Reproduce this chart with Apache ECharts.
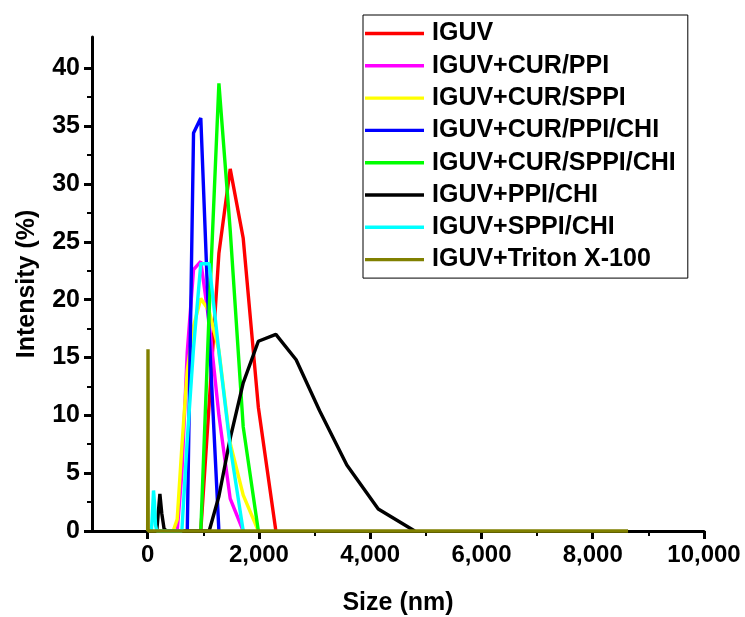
<!DOCTYPE html>
<html><head><meta charset="utf-8">
<script src="https://cdn.jsdelivr.net/npm/echarts@6/dist/echarts.min.js"></script>
<style>html,body{margin:0;padding:0;background:#fff}#c{width:745px;height:617px}</style>
</head><body><div id="c"></div>
<script>
// ---- data (size in nm, intensity in %) ----
const seriesNames = ['IGUV','IGUV+CUR/PPI','IGUV+CUR/SPPI','IGUV+CUR/PPI/CHI','IGUV+CUR/SPPI/CHI','IGUV+PPI/CHI','IGUV+SPPI/CHI','IGUV+Triton X-100'];
const seriesColors = ['#FF0000','#FF00FF','#FFFF00','#0000FF','#00FF00','#000000','#00FFFF','#808000'];

const xIGUV = [955.4, 1106, 1281, 1484, 1718, 1990, 2305];
const yIGUV = [0, 11, 24, 31.3, 25.3, 10.7, 0];

const xCurPPI = [531.2, 615.1, 712.4, 825, 955.4, 1106, 1281, 1484, 1718];
const yCurPPI = [0, 5, 15.5, 22.6, 23.3, 18, 10, 2.8, 0];

const xCurSPPI = [458.7, 531.2, 615.1, 712.4, 825, 955.4, 1106, 1281, 1484, 1718, 1990];
const yCurSPPI = [0, 1, 7.3, 13.9, 17.7, 20.1, 19, 15.6, 7.6, 3.1, 0];

const xCurPPIChi = [712.4, 825, 955.4, 1106, 1281];
const yCurPPIChi = [0, 34.4, 35.7, 17, 0];

const xCurSPPIChi = [955.4, 1106, 1281, 1484, 1718, 1990];
const yCurSPPIChi = [0, 19, 38.7, 26, 9, 0];

const xPPIChi = [164.2, 190.1, 220.2, 255, 295.3, 342, 1106, 1281, 1484, 1718, 1990, 2305, 2669, 3091, 3580, 4145, 4801];
const yPPIChi = [0, 1.5, 3.2, 1.5, 0.2, 0, 0, 3, 8, 12.8, 16.4, 17, 14.8, 10.4, 5.7, 1.9, 0];

const xSPPIChi = [68.06, 91.28, 105.7, 122.4, 141.8, 164.2, 615.1, 712.4, 825, 955.4, 1106, 1281, 1484, 1718];
const ySPPIChi = [0, 2, 3.5, 2.5, 0.5, 0, 0, 7.9, 15.8, 23.1, 23.1, 15.5, 7.3, 0];

const xTriton = [0.4, 4.849, 5.615, 6.503, 7.531, 8.721, 10.1, 8635];
const yTriton = [0, 0, 9, 15.7, 12, 4, 0, 0];

const xMajorTicks = [0, 2000, 4000, 6000, 8000, 10000];
const xMinorTicks = [1000, 3000, 5000, 7000, 9000];
const yMajorTicks = [0, 5, 10, 15, 20, 25, 30, 35, 40];
const yMinorTicks = [2.5, 7.5, 12.5, 17.5, 22.5, 27.5, 32.5, 37.5];

const xs = [xIGUV, xCurPPI, xCurSPPI, xCurPPIChi, xCurSPPIChi, xPPIChi, xSPPIChi, xTriton];
const ys = [yIGUV, yCurPPI, yCurSPPI, yCurPPIChi, yCurSPPIChi, yPPIChi, ySPPIChi, yTriton];

const FONT = 'Liberation Sans';
const chart = echarts.init(document.getElementById('c'), null, {renderer: 'canvas'});

const series = seriesNames.map((n, i) => ({
  name: n, type: 'line', symbol: 'none', showSymbol: false, clip: false,
  data: xs[i].map((x, k) => [x, ys[i][k]]),
  lineStyle: {color: seriesColors[i], width: 3.4},
  itemStyle: {color: seriesColors[i]},
  emphasis: {disabled: true},
  xAxisIndex: 0, yAxisIndex: 0
}));

const X_MIN = -1000, X_MAX = 10000, Y_MIN = 0, Y_MAX = 42.7;

chart.setOption({
  animation: false,
  backgroundColor: '#fff',
  grid: {left: 92, right: 41, top: 37, bottom: 86, containLabel: false, outerBoundsMode: 'none'},
  legend: {
    orient: 'vertical', left: 363, top: 15,
    data: seriesNames,
    icon: 'rect',
    itemWidth: 59, itemHeight: 3.4, itemGap: 7.3,
    padding: [6, 12, 6, 2],
    backgroundColor: '#fff', borderColor: '#000', borderWidth: 1,
    textStyle: {fontSize: 25, fontWeight: 'bold', fontFamily: FONT, color: '#000', lineHeight: 25, padding: [0, 0, 0, 3]},
    selectedMode: false
  },
  xAxis: [{
    type: 'value', min: X_MIN, max: X_MAX, position: 'bottom',
    name: 'Size (nm)', nameLocation: 'middle', nameGap: 60,
    nameTextStyle: {fontSize: 25, fontWeight: 'bold', fontFamily: FONT, color: '#000'},
    axisLine: {show: true, onZero: false, lineStyle: {color: '#000', width: 3}},
    axisTick: {show: true, inside: false, length: 8, lineStyle: {color: '#000', width: 3}, customValues: xMajorTicks},
    axisLabel: {show: true, margin: 12, fontSize: 24, fontWeight: 'bold', fontFamily: FONT, color: '#000',
      customValues: xMajorTicks, formatter: v => v.toLocaleString('en-US')},
    splitLine: {show: false}
  }, {
    type: 'value', min: X_MIN, max: X_MAX, position: 'bottom',
    axisLine: {show: false, onZero: false},
    axisTick: {show: true, inside: false, length: 5, lineStyle: {color: '#000', width: 2}, customValues: xMinorTicks},
    axisLabel: {show: false},
    splitLine: {show: false}
  }],
  yAxis: [{
    type: 'value', min: Y_MIN, max: Y_MAX,
    name: 'Intensity (%)', nameLocation: 'middle', nameGap: 52, nameRotate: 90,
    nameTextStyle: {fontSize: 25, fontWeight: 'bold', fontFamily: FONT, color: '#000'},
    axisLine: {show: true, onZero: false, lineStyle: {color: '#000', width: 3}},
    axisTick: {show: true, inside: false, length: 8, lineStyle: {color: '#000', width: 3}, customValues: yMajorTicks},
    axisLabel: {show: true, margin: 12, fontSize: 25, fontWeight: 'bold', fontFamily: FONT, color: '#000', customValues: yMajorTicks},
    splitLine: {show: false}
  }, {
    type: 'value', min: Y_MIN, max: Y_MAX, position: 'left',
    axisLine: {show: false, onZero: false},
    axisTick: {show: true, inside: false, length: 5, lineStyle: {color: '#000', width: 2}, customValues: yMinorTicks},
    axisLabel: {show: false},
    splitLine: {show: false}
  }],
  series: series
});
</script>
</body></html>
